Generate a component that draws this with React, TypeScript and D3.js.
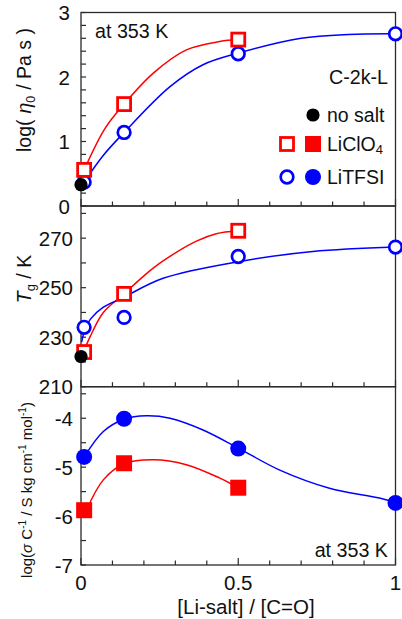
import React from "react";
import * as d3 from "d3";

// ---------- data ----------
const noSaltX = [0];
const etaNoSalt = [0.33];
const tgNoSalt = [222.2];

const liclo4X = [0.01, 0.137, 0.5];
const litfsiX = [0.01, 0.137, 0.5, 1.0];

const etaLiClO4 = [0.56, 1.58, 2.58];
const etaLiTFSI = [0.37, 1.14, 2.36, 2.67];

const tgLiClO4 = [224, 247.5, 273];
const tgLiTFSI = [234, 238, 262.6, 266.4];

const sigLiClO4 = [-5.88, -4.92, -5.42];
const sigLiTFSI = [-4.79, -4.01, -4.62, -5.73];

// fitted curves
const etaFitClO4X = [0.01, 0.076, 0.137, 0.23, 0.335, 0.441, 0.5];
const etaFitClO4Y = [0.56, 1.2, 1.58, 2.06, 2.42, 2.55, 2.58];
const etaFitTFSIX = [0.01, 0.07, 0.137, 0.283, 0.388, 0.5, 0.7, 0.85, 1.0];
const etaFitTFSIY = [0.37, 0.78, 1.14, 1.85, 2.19, 2.37, 2.6, 2.66, 2.67];

const tgFitClO4X = [0.005, 0.029, 0.071, 0.137, 0.2, 0.261, 0.367, 0.43, 0.5];
const tgFitClO4Y = [223, 230.2, 240, 247.5, 254.8, 260.8, 268.8, 271.8, 273];
const tgFitTFSIX = [0.002, 0.013, 0.03, 0.07, 0.134, 0.261, 0.5, 0.737, 1.0];
const tgFitTFSIY = [228, 233.3, 237.3, 242, 246, 253.8, 260.5, 264.6, 266.4];

const sigFitClO4X = [0.018, 0.071, 0.137, 0.23, 0.335, 0.44, 0.483];
const sigFitClO4Y = [-5.87, -5.26, -4.93, -4.85, -4.95, -5.22, -5.36];
const sigFitTFSIX = [0.0095, 0.071, 0.137, 0.208, 0.283, 0.388, 0.5, 0.632, 0.79, 0.949, 1.0];
const sigFitTFSIY = [-4.8, -4.27, -4.02, -3.95, -4.0, -4.24, -4.61, -5.06, -5.43, -5.63, -5.72];

const xTickLabels = ["0", "0.5", "1"];
const xMajor = [0, 0.5, 1];
const etaMajor = [0, 1, 2, 3];
const tgMajor = [210, 230, 250, 270];
const sigMajor = [-7, -6, -5, -4];

// ---------- layout ----------
const W = 402;
const H = 619;
const RED = "#ff0000";
const BLUE = "#0000ff";
const AX = "#2a2a2a";
const FONT = "'Liberation Sans', Arial, sans-serif";
const TICK_FS = 20.5;
const ANN_FS = 19.7;

const x = d3.scaleLinear().domain([0, 1]).range([81, 395.5]);
const yEta = d3.scaleLinear().domain([0, 3]).range([206, 12.5]);
const yTg = d3.scaleLinear().domain([210, 283]).range([386.7, 206]);
const ySig = d3.scaleLinear().domain([-7, -3.355]).range([565, 386.7]);

const pts = (xs: number[], ys: number[]) => xs.map((v, i) => [v, ys[i]] as [number, number]);

function fitPath(xs: number[], ys: number[], ys2: d3.ScaleLinear<number, number>) {
  const line = d3
    .line<[number, number]>()
    .x((d) => x(d[0]))
    .y((d) => ys2(d[1]))
    .curve(d3.curveCatmullRom.alpha(0.5));
  return line(pts(xs, ys)) || "";
}

function Panel({
  y,
  major,
  minorStep,
  labels,
  tickLabelX,
}: {
  y: d3.ScaleLinear<number, number>;
  major: number[];
  minorStep: number;
  labels: boolean;
  tickLabelX: number;
}) {
  const [d0, d1] = y.domain();
  const minor: number[] = [];
  for (let v = Math.ceil(d0 / minorStep - 1e-6) * minorStep; v <= d1 + 1e-6; v += minorStep) minor.push(+v.toFixed(4));
  const xMinor = d3.range(0, 11).map((i) => i / 10);
  const top = y(d1);
  const bot = y(d0);
  return (
    <g>
      <rect x={x(0)} y={top} width={x(1) - x(0)} height={bot - top} fill="none" stroke={AX} strokeWidth={1.3} />
      {minor.map((v) => (
        <line key={"ym" + v} x1={x(0)} x2={x(0) + 5} y1={y(v)} y2={y(v)} stroke={AX} strokeWidth={1.2} />
      ))}
      {major.map((v) => (
        <text
          key={"yl" + v}
          x={tickLabelX}
          y={y(v)}
          textAnchor="end"
          dominantBaseline="central"
          fontSize={TICK_FS}
          fontFamily={FONT}
          fill="#111"
        >
          {v}
        </text>
      ))}
      {xMinor.map((v) => (
        <line
          key={"xm" + v}
          x1={x(v)}
          x2={x(v)}
          y1={bot}
          y2={bot - (xMajor.includes(v) ? 7 : 4.5)}
          stroke={AX}
          strokeWidth={1.2}
        />
      ))}
      {labels &&
        xMajor.map((v, i) => (
          <text
            key={"xl" + v}
            x={x(v)}
            y={582}
            textAnchor="middle"
            dominantBaseline="central"
            fontSize={TICK_FS}
            fontFamily={FONT}
            fill="#111"
          >
            {xTickLabels[i]}
          </text>
        ))}
    </g>
  );
}

function OpenSquare({ cx, cy, color }: { cx: number; cy: number; color: string }) {
  const s = 13;
  return <rect x={cx - s / 2} y={cy - s / 2} width={s} height={s} fill="#fff" stroke={color} strokeWidth={2.8} />;
}
function FilledSquare({ cx, cy, color }: { cx: number; cy: number; color: string }) {
  const s = 16;
  return <rect x={cx - s / 2} y={cy - s / 2} width={s} height={s} fill={color} />;
}
function OpenCircle({ cx, cy, color }: { cx: number; cy: number; color: string }) {
  return <circle cx={cx} cy={cy} r={6.3} fill="#fff" stroke={color} strokeWidth={2.7} />;
}
function FilledCircle({ cx, cy, color, r = 8 }: { cx: number; cy: number; color: string; r?: number }) {
  return <circle cx={cx} cy={cy} r={r} fill={color} />;
}

export default function App() {
  const txt = { fontFamily: FONT, fill: "#111" } as const;
  return (
    <svg width={W} height={H} style={{ position: "absolute", left: 0, top: 0, background: "#fff" }}>
      <rect x={0} y={0} width={W} height={H} fill="#fff" />
      <Panel y={yEta} major={etaMajor} minorStep={0.2} labels={false} tickLabelX={70} />
      <Panel y={yTg} major={tgMajor} minorStep={10} labels={false} tickLabelX={73} />
      <Panel y={ySig} major={sigMajor} minorStep={0.5} labels={true} tickLabelX={73} />

      {/* fit curves */}
      <path d={fitPath(etaFitClO4X, etaFitClO4Y, yEta)} fill="none" stroke={RED} strokeWidth={1.5} />
      <path d={fitPath(etaFitTFSIX, etaFitTFSIY, yEta)} fill="none" stroke={BLUE} strokeWidth={1.5} />
      <path d={fitPath(tgFitClO4X, tgFitClO4Y, yTg)} fill="none" stroke={RED} strokeWidth={1.5} />
      <path d={fitPath(tgFitTFSIX, tgFitTFSIY, yTg)} fill="none" stroke={BLUE} strokeWidth={1.5} />
      <path d={fitPath(sigFitClO4X, sigFitClO4Y, ySig)} fill="none" stroke={RED} strokeWidth={1.5} />
      <path d={fitPath(sigFitTFSIX, sigFitTFSIY, ySig)} fill="none" stroke={BLUE} strokeWidth={1.5} />

      {/* top panel markers */}
      {litfsiX.map((v, i) => (
        <OpenCircle key={"e2" + i} cx={x(v)} cy={yEta(etaLiTFSI[i])} color={BLUE} />
      ))}
      {liclo4X.map((v, i) => (
        <OpenSquare key={"e1" + i} cx={x(v)} cy={yEta(etaLiClO4[i])} color={RED} />
      ))}
      {noSaltX.map((v, i) => (
        <FilledCircle key={"e0" + i} cx={x(v)} cy={yEta(etaNoSalt[i])} color="#000" r={6.6} />
      ))}

      {/* middle panel markers */}
      {litfsiX.map((v, i) => (
        <OpenCircle key={"t2" + i} cx={x(v)} cy={yTg(tgLiTFSI[i])} color={BLUE} />
      ))}
      {liclo4X.map((v, i) => (
        <OpenSquare key={"t1" + i} cx={x(v)} cy={yTg(tgLiClO4[i])} color={RED} />
      ))}
      {noSaltX.map((v, i) => (
        <FilledCircle key={"t0" + i} cx={x(v)} cy={yTg(tgNoSalt[i])} color="#000" r={6.6} />
      ))}

      {/* bottom panel markers */}
      {litfsiX.map((v, i) => (
        <FilledCircle key={"s2" + i} cx={x(v)} cy={ySig(sigLiTFSI[i])} color={BLUE} />
      ))}
      {liclo4X.map((v, i) => (
        <FilledSquare key={"s1" + i} cx={x(v)} cy={ySig(sigLiClO4[i])} color={RED} />
      ))}

      {/* annotations */}
      <text x={95} y={31} dominantBaseline="central" fontSize={ANN_FS} {...txt}>
        at 353 K
      </text>
      <text x={388} y={77} textAnchor="end" dominantBaseline="central" fontSize={ANN_FS} {...txt}>
        C-2k-L
      </text>
      <text x={388} y={550} textAnchor="end" dominantBaseline="central" fontSize={ANN_FS} {...txt}>
        at 353 K
      </text>

      {/* legend */}
      <FilledCircle cx={313} cy={115} color="#000" r={6.6} />
      <text x={327} y={115} dominantBaseline="central" fontSize={19.5} {...txt}>
        no salt
      </text>
      <OpenSquare cx={287} cy={144} color={RED} />
      <FilledSquare cx={313} cy={144} color={RED} />
      <text x={327} y={144} dominantBaseline="central" fontSize={19.5} {...txt}>
        LiClO
        <tspan dy={5} fontSize={13}>
          4
        </tspan>
      </text>
      <OpenCircle cx={287} cy={177} color={BLUE} />
      <FilledCircle cx={313} cy={177} color={BLUE} />
      <text x={327} y={177} dominantBaseline="central" fontSize={19.5} {...txt}>
        LiTFSI
      </text>

      {/* axis titles */}
      <text x={246} y={606} textAnchor="middle" dominantBaseline="central" fontSize={20.5} {...txt}>
        [Li-salt] / [C=O]
      </text>
      <text transform="translate(25,90) rotate(-90)" textAnchor="middle" fontSize={19.5} {...txt} dy={6}>
        log(
        <tspan fontStyle="italic" dx={6}>η</tspan>
        <tspan dy={4} fontSize={12.5}>0</tspan>
        <tspan dy={-4} dx={6}>/ Pa s )</tspan>
      </text>
      <text transform="translate(25,279) rotate(-90)" textAnchor="middle" fontSize={19.5} {...txt} dy={6}>
        <tspan fontStyle="italic">T</tspan>
        <tspan dy={4} fontSize={13}>g</tspan>
        <tspan dy={-4}> / K</tspan>
      </text>
      <text transform="translate(27,490) rotate(-90)" textAnchor="middle" fontSize={15} {...txt} dy={5}>
        log(
        <tspan fontStyle="italic">σ</tspan> C
        <tspan dy={-6} fontSize={10}>-1</tspan>
        <tspan dy={6}> / S kg cm</tspan>
        <tspan dy={-6} fontSize={10}>-1</tspan>
        <tspan dy={6}> mol</tspan>
        <tspan dy={-6} fontSize={10}>-1</tspan>
        <tspan dy={6}>)</tspan>
      </text>
    </svg>
  );
}
